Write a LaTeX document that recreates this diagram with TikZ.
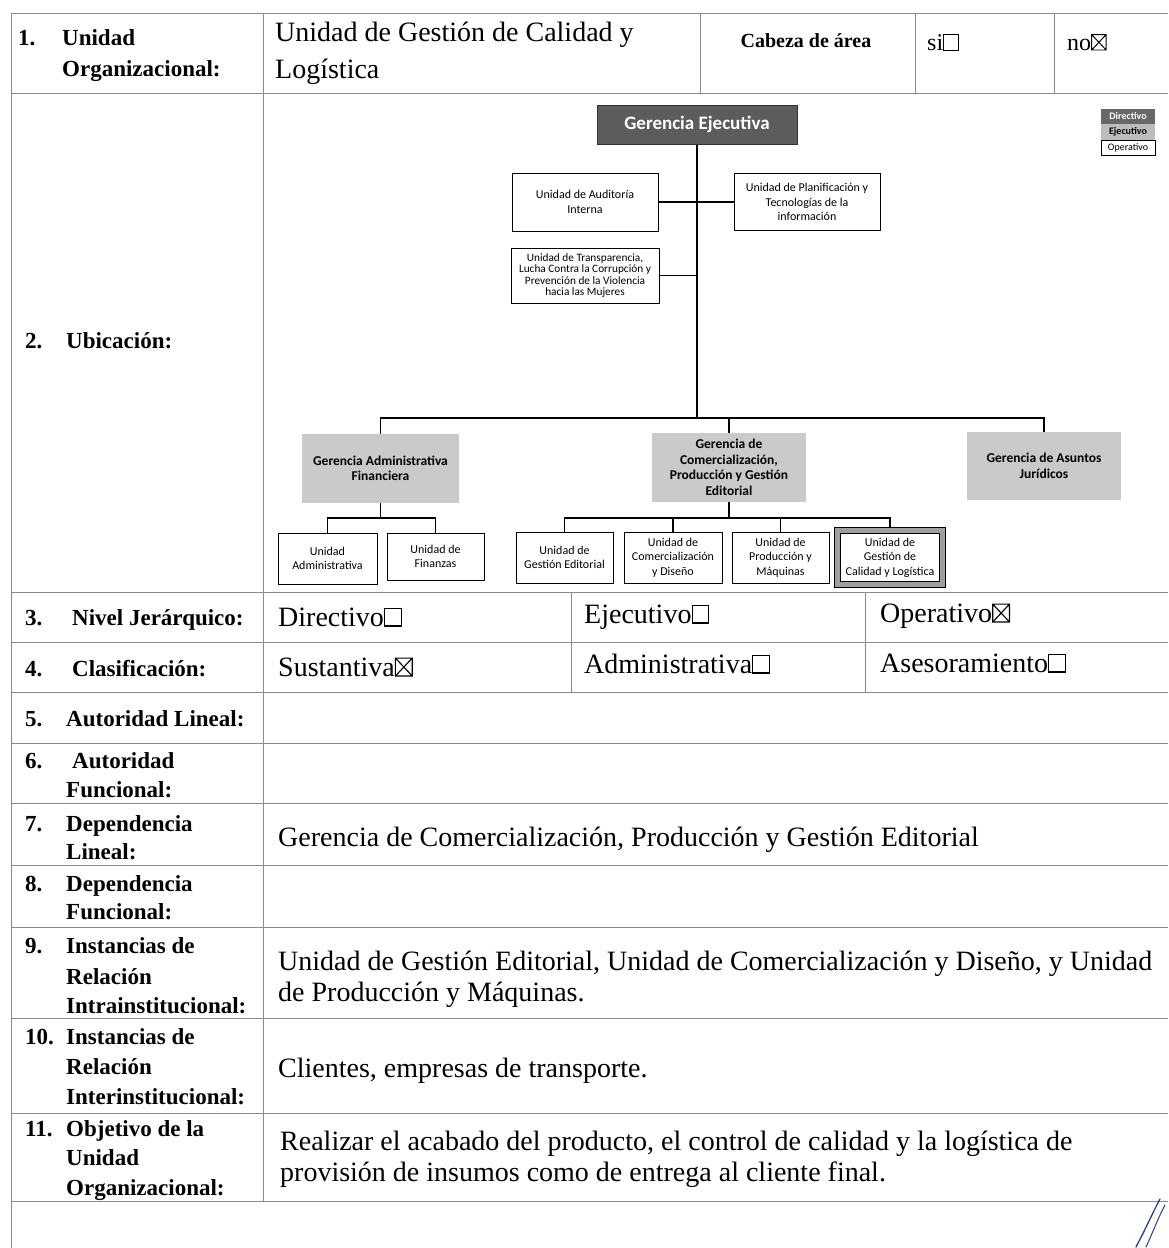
\documentclass[tikz,border=0pt]{standalone}
\usepackage{fontspec}
\setmainfont{Liberation Serif}
\newfontfamily\orgfont{Carlito}
\usetikzlibrary{backgrounds}

\definecolor{tablegray}{HTML}{8A8A8A}
\definecolor{darkfill}{HTML}{5C5C5C}
\definecolor{lightfill}{HTML}{CACACA}
\definecolor{legdark}{HTML}{686868}
\definecolor{leglight}{HTML}{BDBDBD}
\definecolor{inkblue}{HTML}{2B3C8C}

% ballot boxes drawn at the size of the surrounding text
\newcommand{\emptybox}{\tikz[baseline=0pt]\draw[line width=0.04em,black] (0.06em,0) rectangle (0.66em,0.64em);}
\newcommand{\crossbox}{\tikz[baseline=0pt]\draw[line width=0.04em,black] (0.06em,0) rectangle (0.66em,0.64em) (0.06em,0) -- (0.66em,0.64em) (0.06em,0.64em) -- (0.66em,0);}

\tikzset{
  tline/.style={draw=tablegray, line width=1pt},
  lbl/.style={anchor=base west, inner sep=0pt, font=\fontsize{23}{29}\selectfont\bfseries},
  txt/.style={anchor=base west, inner sep=0pt, font=\fontsize{28}{31}\selectfont},
  unitbox/.style={draw=black, line width=1pt, fill=white, align=center, inner sep=1pt,
    font=\orgfont\fontsize{12}{14.5}\selectfont},
  gerbox/.style={fill=lightfill, align=center, inner sep=1pt,
    font=\orgfont\bfseries\fontsize{13.5}{15.5}\selectfont},
  link/.style={draw=black, line width=1.2pt},
  legbox/.style={minimum width=54pt, inner sep=0pt, font=\orgfont\fontsize{10}{11}\selectfont},
}

\begin{document}
\begin{tikzpicture}[x=1pt,y=-1pt]
\useasboundingbox (0,0) rectangle (1168,1248);

% ---------- table rules ----------
\foreach \yy in {13,93,592,642,692,743,803,865,927,1018,1113,1201}
  \draw[tline] (11,\yy) -- (1168,\yy);
\draw[tline] (11,13) -- (11,1248);
\draw[tline] (263,13) -- (263,1201);
\foreach \xx in {700,915,1054} \draw[tline] (\xx,13) -- (\xx,93);
\foreach \xx in {571,865} \draw[tline] (\xx,592) -- (\xx,692);

% ---------- row 1 ----------
\node[lbl] (n1) at (18,45) {1.};
\node[lbl] (l1a) at (62,45) {Unidad};
\node[lbl] (l1b) at (62,76) {Organizacional:};
\node[txt] (t1a) at (275,41) {Unidad de Gestión de Calidad y};
\node[txt] (t1b) at (275,78) {Logística};
\node[anchor=base, inner sep=0pt, font=\fontsize{20}{24}\selectfont\bfseries] (cab) at (806,47) {Cabeza de área};
\node[anchor=base west, inner sep=0pt, font=\fontsize{24}{28}\selectfont] (si) at (927,50) {si\emptybox};
\node[anchor=base west, inner sep=0pt, font=\fontsize{24}{28}\selectfont] (no) at (1067,50) {no\crossbox};

% ---------- row 2 ----------
\node[lbl] (n2) at (25,348) {2.};
\node[lbl] (l2) at (66,348) {Ubicación:};

% ---------- rows 3 and 4 ----------
\node[lbl] (n3) at (25,625) {3.};
\node[lbl] (l3) at (72,625) {Nivel Jerárquico:};
\node[txt] (t3a) at (278,626) {Directivo\emptybox};
\node[txt] (t3b) at (584,623) {Ejecutivo\emptybox};
\node[txt] (t3c) at (880,622) {Operativo\crossbox};
\node[lbl] (n4) at (25,676) {4.};
\node[lbl] (l4) at (72,676) {Clasificación:};
\node[txt] (t4a) at (278,676) {Sustantiva\crossbox};
\node[txt] (t4b) at (584,673) {Administrativa\emptybox};
\node[txt] (t4c) at (880,672) {Asesoramiento\emptybox};

% ---------- rows 5 to 8 ----------
\node[lbl] (n5) at (25,726) {5.};
\node[lbl] (l5) at (66,726) {Autoridad Lineal:};
\node[lbl] (n6) at (25,768) {6.};
\node[lbl] (l6a) at (72,768) {Autoridad};
\node[lbl] (l6b) at (66,797) {Funcional:};
\node[lbl] (n7) at (25,831) {7.};
\node[lbl] (l7a) at (66,831) {Dependencia};
\node[lbl] (l7b) at (66,859) {Lineal:};
\node[txt] (t7) at (278,846) {Gerencia de Comercialización, Producción y Gestión Editorial};
\node[lbl] (n8) at (25,891) {8.};
\node[lbl] (l8a) at (66,891) {Dependencia};
\node[lbl] (l8b) at (66,919) {Funcional:};

% ---------- rows 9 to 11 ----------
\node[lbl] (n9) at (25,953) {9.};
\node[lbl] (l9a) at (66,953) {Instancias de};
\node[lbl] (l9b) at (66,984) {Relación};
\node[lbl] (l9c) at (66,1013) {Intrainstitucional:};
\node[txt] (t9a) at (278,970) {Unidad de Gestión Editorial, Unidad de Comercialización y Diseño, y Unidad};
\node[txt] (t9b) at (278,1001) {de Producción y Máquinas.};
\node[lbl] (n10) at (25,1044) {10.};
\node[lbl] (l10a) at (66,1044) {Instancias de};
\node[lbl] (l10b) at (66,1074) {Relación};
\node[lbl] (l10c) at (66,1104) {Interinstitucional:};
\node[txt] (t10) at (278,1077) {Clientes, empresas de transporte.};
\node[lbl] (n11) at (25,1136) {11.};
\node[lbl] (l11a) at (66,1136) {Objetivo de la};
\node[lbl] (l11b) at (66,1165) {Unidad};
\node[lbl] (l11c) at (66,1195) {Organizacional:};
\node[txt] (t11a) at (280,1150) {Realizar el acabado del producto, el control de calidad y la logística de};
\node[txt] (t11b) at (280,1181) {provisión de insumos como de entrega al cliente final.};

% ---------- organisation chart ----------
\node[fill=darkfill, draw=black!80, minimum width=200pt, minimum height=39pt, inner sep=0pt,
  text=white, font=\orgfont\bfseries\fontsize{19}{22}\selectfont] (ge) at (697,124.5) {Gerencia Ejecutiva};

\node[unitbox, minimum width=146pt, minimum height=58pt] (aud) at (585,202) {Unidad de Auditoría\\Interna};
\node[unitbox, minimum width=146pt, minimum height=57pt] (pla) at (807,202) {Unidad de Planificación y\\Tecnologías de la\\información};
\node[unitbox, minimum width=148pt, minimum height=55pt, font=\orgfont\fontsize{11.3}{11.2}\selectfont] (tra) at (585,275.5)
  {Unidad de Transparencia,\\Lucha Contra la Corrupción y\\Prevención de la Violencia\\hacia las Mujeres};

\node[gerbox, minimum width=157pt, minimum height=69pt] (gaf) at (380.5,468.5) {Gerencia Administrativa\\Financiera};
\node[gerbox, minimum width=154pt, minimum height=69pt] (gcp) at (729,467.5) {Gerencia de\\Comercialización,\\Producción y Gestión\\Editorial};
\node[gerbox, minimum width=154pt, minimum height=68pt] (gaj) at (1044,466) {Gerencia de Asuntos\\Jurídicos};

\node[unitbox, minimum width=99pt, minimum height=51pt] (uad) at (327.5,558.5) {Unidad\\Administrativa};
\node[unitbox, minimum width=97pt, minimum height=47pt] (ufi) at (435.5,556.5) {Unidad de\\Finanzas};
\node[unitbox, minimum width=97pt, minimum height=51pt] (uge) at (564.5,557.5) {Unidad de\\Gestión Editorial};
\node[unitbox, minimum width=98pt, minimum height=51pt] (ucd) at (673,557.5) {Unidad de\\Comercialización\\y Diseño};
\node[unitbox, minimum width=97pt, minimum height=51pt] (upm) at (780.5,557.5) {Unidad de\\Producción y\\Máquinas};
\node[unitbox, line width=1.2pt, double=gray!75, double distance=5.5pt, minimum width=105pt, minimum height=54pt]
  (ucl) at (890,557.5) {Unidad de\\Gestión de\\Calidad y Logística};

% legend
\node[legbox, fill=legdark, text=white, minimum height=15pt, font=\orgfont\bfseries\fontsize{10}{11}\selectfont] (legD) at (1128,116.5) {Directivo};
\node[legbox, fill=leglight, minimum height=16pt, font=\orgfont\bfseries\fontsize{10}{11}\selectfont] (legE) at (1128,132) {Ejecutivo};
\node[legbox, draw=black, line width=0.8pt, minimum height=15pt] (legO) at (1128,148) {Operativo};

% connectors, kept underneath the boxes
\begin{scope}[on background layer]
  \coordinate (bus) at (697,418);
  \coordinate (subA) at (380.5,518);
  \coordinate (subB) at (729,518);
  \draw[link] (ge.south) -- (bus);
  \draw[link] (aud.east) -- (pla.west);
  \draw[link] (tra.east) -- (tra.east -| ge.south);
  \draw[link] (gaf.north) -- (gaf.north |- bus) -- (gaj.north |- bus) -- (gaj.north);
  \draw[link] (gcp.north) -- (gcp.north |- bus);
  \draw[link] (gaf.south) -- (subA);
  \draw[link] (uad.north) -- (uad.north |- subA) -- (ufi.north |- subA) -- (ufi.north);
  \draw[link] (gcp.south) -- (subB);
  \draw[link] (uge.north) -- (uge.north |- subB) -- (ucl.north |- subB) -- (ucl.north);
  \draw[link] (ucd.north) -- (ucd.north |- subB);
  \draw[link] (upm.north) -- (upm.north |- subB);
\end{scope}

% pen stroke in the lower right corner
\draw[inkblue, line width=1.3pt, line cap=round] (1136,1247) .. controls (1146,1228) and (1153,1212) .. (1160,1199);
\draw[inkblue, line width=1pt, line cap=round] (1146,1247) .. controls (1153,1232) and (1158,1218) .. (1165,1205);
\end{tikzpicture}
\end{document}
